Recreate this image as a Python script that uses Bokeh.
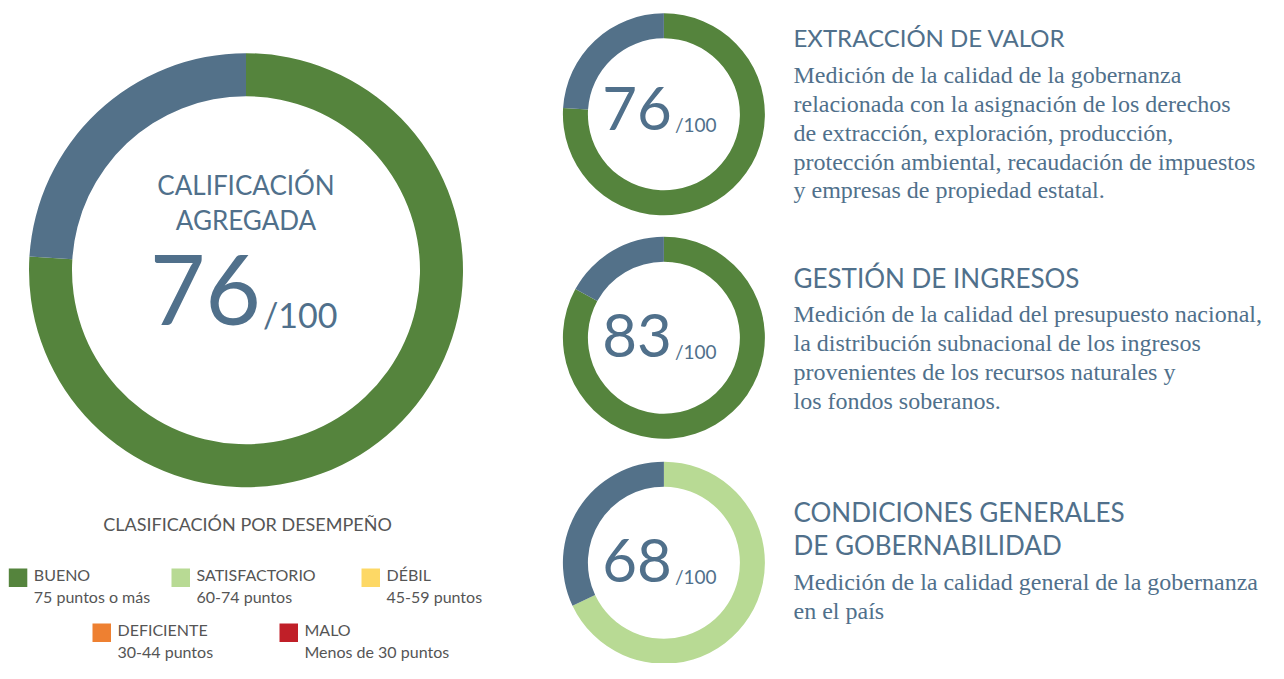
from math import pi
from bokeh.plotting import figure
from bokeh.models import Range1d
from bokeh.core.properties import value
from bokeh.embed import file_html
from bokeh.resources import INLINE

# ---------------- data ----------------
agg_title = ["CALIFICACIÓN", "AGREGADA"]
agg_score = 76
max_score = 100

sub_titles = [["EXTRACCIÓN DE VALOR"],
              ["GESTIÓN DE INGRESOS"],
              ["CONDICIONES GENERALES", "DE GOBERNABILIDAD"]]
sub_scores = [76, 83, 68]
sub_desc = [
    ["Medición de la calidad de la gobernanza",
     "relacionada con la asignación de los derechos",
     "de extracción, exploración, producción,",
     "protección ambiental, recaudación de impuestos",
     "y empresas de propiedad estatal."],
    ["Medición de la calidad del presupuesto nacional,",
     "la distribución subnacional de los ingresos",
     "provenientes de los recursos naturales y",
     "los fondos soberanos."],
    ["Medición de la calidad general de la gobernanza",
     "en el país"],
]

legend_title = "CLASIFICACIÓN POR DESEMPEÑO"
legend_labels = ["BUENO", "SATISFACTORIO", "DÉBIL", "DEFICIENTE", "MALO"]
legend_ranges = ["75 puntos o más", "60-74 puntos", "45-59 puntos",
                 "30-44 puntos", "Menos de 30 puntos"]
legend_min = [75, 60, 45, 30, 0]
legend_colors = ["#55843D", "#B8DA94", "#FDD865", "#EE8031", "#C01F28"]

REST_COLOR = "#537189"
TEXT_COLOR = "#50708B"
GRAY = "#555555"
SANS = "Lato"
SERIF = "Liberation Serif"
K = {SANS: 0.387, SERIF: 0.3375}   # anchor-to-baseline offset (em)


def band_color(score):
    for lo, c in zip(legend_min, legend_colors):
        if score >= lo:
            return c
    return legend_colors[-1]


# ---------------- figure ----------------
W, H = 1268, 663
p = figure(width=W, height=H, x_range=Range1d(0, W), y_range=Range1d(-H, 0),
           output_backend="svg", toolbar_location=None,
           x_axis_type=None, y_axis_type=None, min_border=0)
p.grid.visible = False
p.outline_line_color = None
p.background_fill_color = "white"
p.border_fill_color = "white"


def donut(cx, cy, r_in, r_out, score):
    frac = score / max_score
    p.annular_wedge(x=cx, y=-cy, inner_radius=r_in, outer_radius=r_out,
                    start_angle=pi / 2 - 2 * pi * frac, end_angle=pi / 2,
                    fill_color=band_color(score), line_color=None)
    p.annular_wedge(x=cx, y=-cy, inner_radius=r_in, outer_radius=r_out,
                    start_angle=pi / 2, end_angle=pi / 2 + 2 * pi * (1 - frac),
                    fill_color=REST_COLOR, line_color=None)


def txt(x, base, s, size, font=SANS, color=TEXT_COLOR, align="left"):
    anchor = base - K[font] * size
    p.text(x=[x], y=[-anchor], text=[s], text_font=value(font), text_font_size=f"{size}px",
           text_color=color, text_align=align, text_baseline="alphabetic")


# big donut
BCX, BCY = 245.5, 269.7
donut(BCX, BCY, 174, 217, agg_score)
txt(BCX, 195, agg_title[0], 26, align="center")
txt(BCX, 230, agg_title[1], 26, align="center")
txt(BCX + 15, 327, str(agg_score), 96, align="right")
txt(BCX + 17, 327, f"/{max_score}", 34, align="left")

# small donuts
SCX = 663.4
centers = [113.8, 337.2, 562.2]
num_base = [131, 358.5, 583.5]
head_base = [46.7, 287.3, 521.7]
head_size = [24, 26, 26]
desc_base = [82.7, 321.7, 590.0]
for i, score in enumerate(sub_scores):
    cy = centers[i]
    donut(SCX, cy, 76, 101, score)
    txt(SCX + 8, num_base[i], str(score), 60, align="right")
    txt(SCX + 11, num_base[i], f"/{max_score}", 19, align="left")
    for j, line in enumerate(sub_titles[i]):
        txt(793, head_base[i] + j * 33.3, line, head_size[i])
    for j, line in enumerate(sub_desc[i]):
        txt(793, desc_base[i] + j * 28.8, line, 24, font=SERIF)

# legend
txt(247, 530, legend_title, 18, color=GRAY, align="center")
sq_x = [8.3, 171, 361, 92, 279]
sq_y = [568, 568, 568, 623, 623]
SQ = 18.5
for k in range(len(legend_labels)):
    p.rect(x=[sq_x[k] + SQ / 2], y=[-(sq_y[k] + SQ / 2)], width=SQ, height=SQ,
           fill_color=legend_colors[k], line_color=None)
    txt(sq_x[k] + 25, sq_y[k] + 12, legend_labels[k], 16, color=GRAY)
    txt(sq_x[k] + 25, sq_y[k] + 34.5, legend_ranges[k], 16, color=GRAY)

open("out.html", "w").write(file_html(p, INLINE))
